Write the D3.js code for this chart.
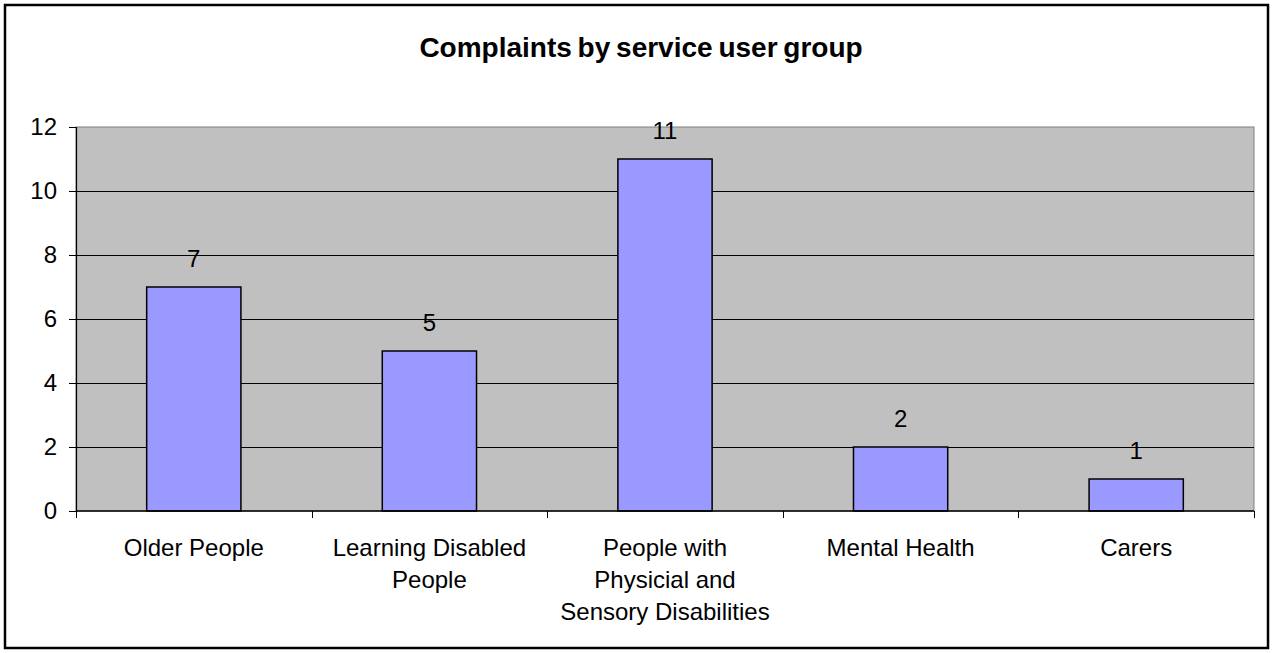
<!DOCTYPE html>
<html>
<head>
<meta charset="utf-8">
<script src="https://cdn.jsdelivr.net/npm/d3@7"></script>
<style>
  html, body { margin: 0; padding: 0; background: #fff; }
  svg { display: block; font-family: "Liberation Sans", Arial, sans-serif; }
</style>
</head>
<body>
<svg id="chart" width="1273" height="653"></svg>
<script>
// Complaints received, per service user group
const categories = [
  ["Older People"],
  ["Learning Disabled", "People"],
  ["People with", "Physicial and", "Sensory Disabilities"],
  ["Mental Health"],
  ["Carers"]
];
const complaints = [7, 5, 11, 2, 1];
const yTicks = [0, 2, 4, 6, 8, 10, 12];
const title = "Complaints by service user group";

const svg = d3.select("#chart");
const W = 1273, H = 653;
const plot = { left: 76, right: 1254, top: 127, bottom: 511 };
const FS = 24;

// Outer frame
svg.append("rect")
  .attr("x", 5).attr("y", 5)
  .attr("width", W - 10).attr("height", H - 10)
  .attr("fill", "#fff").attr("stroke", "#000").attr("stroke-width", 2.5);

// Title
svg.append("text")
  .attr("x", 641).attr("y", 57)
  .attr("text-anchor", "middle")
  .attr("font-size", 28).attr("font-weight", "bold")
  .attr("word-spacing", -2)
  .text(title);

const keys = categories.map((c, i) => i);
const x = d3.scaleBand().domain(keys).range([plot.left, plot.right]).paddingInner(0).paddingOuter(0);
const y = d3.scaleLinear().domain([0, 12]).range([plot.bottom, plot.top]);

// Plot background
svg.append("rect")
  .attr("x", plot.left).attr("y", plot.top)
  .attr("width", plot.right - plot.left).attr("height", plot.bottom - plot.top)
  .attr("fill", "#C0C0C0").attr("stroke", "#808080").attr("stroke-width", 1);

// Horizontal gridlines
svg.append("g").selectAll("line")
  .data(yTicks.filter(t => t > 0 && t < 12))
  .join("line")
  .attr("x1", plot.left).attr("x2", plot.right)
  .attr("y1", d => Math.round(y(d)) + 0.5).attr("y2", d => Math.round(y(d)) + 0.5)
  .attr("stroke", "#000").attr("stroke-width", 1);

// Bars
const barW = x.bandwidth() * 0.4;
svg.append("g").selectAll("rect")
  .data(complaints)
  .join("rect")
  .attr("x", (d, i) => x(i) + x.bandwidth() / 2 - barW / 2)
  .attr("y", d => y(d))
  .attr("width", barW)
  .attr("height", d => y(0) - y(d))
  .attr("fill", "#9999FF")
  .attr("stroke", "#000").attr("stroke-width", 1.5);

// Value labels
svg.append("g").selectAll("text")
  .data(complaints)
  .join("text")
  .attr("x", (d, i) => x(i) + x.bandwidth() / 2)
  .attr("y", d => y(d) - 20)
  .attr("text-anchor", "middle")
  .attr("font-size", FS)
  .text(d => d);

// Y axis
const yAxis = svg.append("g")
  .attr("transform", `translate(${plot.left},0)`)
  .call(d3.axisLeft(y).tickValues(yTicks).tickSize(7).tickPadding(12).tickFormat(d3.format("d")));
yAxis.selectAll("text").attr("font-size", FS).attr("font-family", "Liberation Sans, Arial, sans-serif").attr("fill", "#000");
yAxis.select(".domain").attr("stroke", "#000").attr("stroke-width", 1.2);
yAxis.selectAll(".tick line").attr("stroke", "#000");

// X axis: baseline and boundary ticks
const xAxisG = svg.append("g");
xAxisG.append("line")
  .attr("x1", plot.left).attr("x2", plot.right)
  .attr("y1", plot.bottom).attr("y2", plot.bottom)
  .attr("stroke", "#000").attr("stroke-width", 1.5);
const bounds = keys.map(k => x(k)).concat([plot.right]);
xAxisG.selectAll("line.tick")
  .data(bounds)
  .join("line")
  .attr("class", "tick")
  .attr("x1", d => Math.round(d) + 0.5).attr("x2", d => Math.round(d) + 0.5)
  .attr("y1", plot.bottom).attr("y2", plot.bottom + 7)
  .attr("stroke", "#000");

// Category labels (multi-line)
const catG = svg.append("g").selectAll("text")
  .data(categories)
  .join("text")
  .attr("text-anchor", "middle")
  .attr("font-size", FS)
  .attr("x", (d, i) => x(i) + x.bandwidth() / 2)
  .attr("y", 556);
catG.selectAll("tspan")
  .data(d => d)
  .join("tspan")
  .attr("x", function () { return d3.select(this.parentNode).attr("x"); })
  .attr("dy", (d, i) => i === 0 ? 0 : 32)
  .text(d => d);
</script>
</body>
</html>
